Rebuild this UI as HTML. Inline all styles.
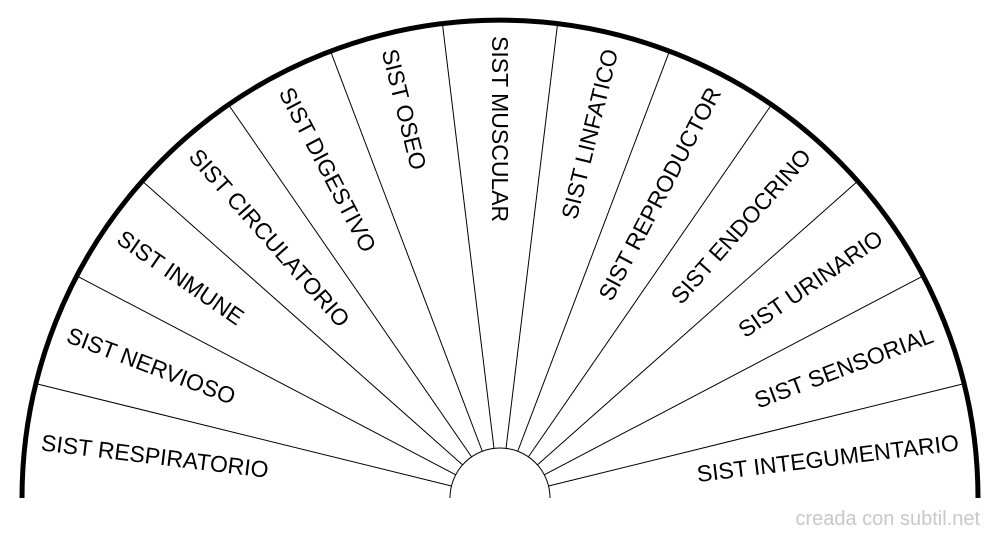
<!DOCTYPE html>
<html><head><meta charset="utf-8"><style>
html,body{margin:0;padding:0;background:#fff;width:1000px;height:540px;overflow:hidden}
svg{display:block}
text{font-family:"Liberation Sans",sans-serif}
</style></head><body>
<svg id="s" width="1000" height="540" viewBox="0 0 1000 540" xmlns="http://www.w3.org/2000/svg">
<path d="M22,498 A478,478 0 0 1 978,498" fill="none" stroke="#000" stroke-width="5"/>
<path d="M450,498 A50,50 0 0 1 550,498" fill="none" stroke="#000" stroke-width="1"/>
<text x="980" y="525" font-size="20" fill="#c8c8c8" text-anchor="end">creada con subtil.net</text>
</svg>
<script>
var s=document.getElementById('s'),cx=500,cy=498,R=476,r=50,n=13,st=180/n;
var labels=["SIST RESPIRATORIO","SIST NERVIOSO","SIST INMUNE","SIST CIRCULATORIO","SIST DIGESTIVO","SIST OSEO","SIST MUSCULAR","SIST LINFATICO","SIST REPRODUCTOR","SIST ENDOCRINO","SIST URINARIO","SIST SENSORIAL","SIST INTEGUMENTARIO"];
var h="";
for(var i=1;i<n;i++){var a=(180-i*st)*Math.PI/180,c=Math.cos(a),sn=Math.sin(a);
h+='<line x1="'+(cx+r*c)+'" y1="'+(cy-r*sn)+'" x2="'+(cx+R*c)+'" y2="'+(cy-R*sn)+'" stroke="#000" stroke-width="1"/>';}
for(var i=0;i<n;i++){var d=180-(i+0.5)*st,a=d*Math.PI/180,c=Math.cos(a),sn=Math.sin(a),rr=462;
var x=cx+rr*c,y=cy-rr*sn,rot,anc;
if(i<=6){rot=Math.atan2(sn,-c)*180/Math.PI;anc="start";}else{rot=Math.atan2(-sn,c)*180/Math.PI;anc="end";}
h+='<text x="'+x+'" y="'+y+'" font-size="23" dominant-baseline="central" text-anchor="'+anc+'" transform="rotate('+rot+' '+x+' '+y+')">'+labels[i]+'</text>';}
s.insertAdjacentHTML('beforeend',h);
</script>
</body></html>
